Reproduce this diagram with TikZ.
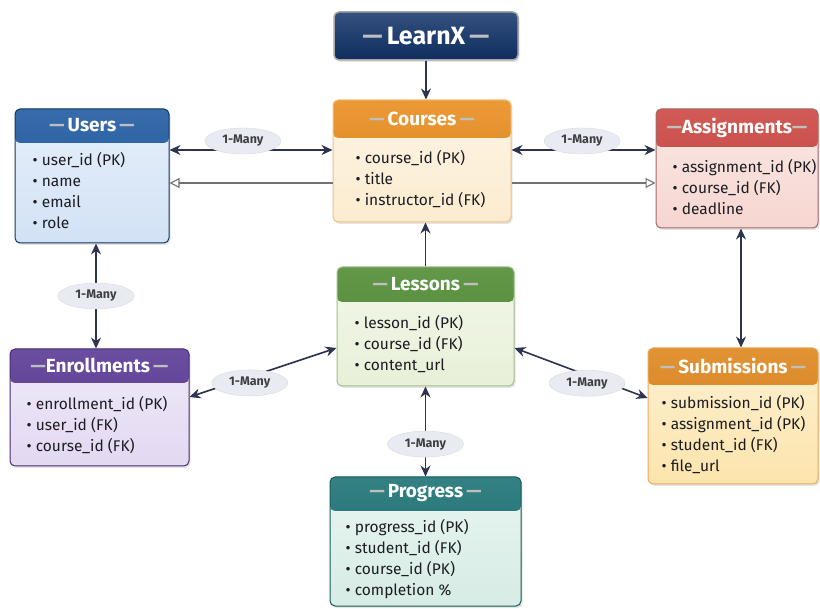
\documentclass[tikz,border=0pt]{standalone}
\usepackage{fontspec}
\setmainfont{Fira Sans}
\usetikzlibrary{arrows.meta,positioning,shapes.geometric,shadows,calc}

\definecolor{navy}{RGB}{16,50,104}
\definecolor{usershd}{RGB}{28,88,160}
\definecolor{usersbd}{RGB}{210,226,246}
\definecolor{coursehd}{RGB}{232,140,28}
\definecolor{coursebd}{RGB}{252,236,208}
\definecolor{assignhd}{RGB}{204,68,62}
\definecolor{assignbd}{RGB}{246,214,208}
\definecolor{lessonhd}{RGB}{78,138,48}
\definecolor{lessonbd}{RGB}{232,240,216}
\definecolor{enrollhd}{RGB}{88,54,148}
\definecolor{enrollbd}{RGB}{228,216,242}
\definecolor{submhd}{RGB}{222,132,24}
\definecolor{submbd}{RGB}{252,228,172}
\definecolor{proghd}{RGB}{24,112,114}
\definecolor{progbd}{RGB}{214,236,228}
\definecolor{linkc}{RGB}{44,52,80}
\definecolor{lblc}{RGB}{232,236,242}
\definecolor{bodyc}{RGB}{28,28,34}
\newcommand{\hd}[1]{{\color{white!75!black}—}\,#1\,{\color{white!75!black}—}}

\begin{document}
\begin{tikzpicture}[x=1pt, y=-1pt, >={Stealth[length=11pt,width=10pt]},
  entity/.style n args={4}{draw=#3, top color=#2!55!white, bottom color=#2,
    rounded corners=5pt, line width=1pt, inner sep=0pt,
    drop shadow={shadow xshift=1.5pt, shadow yshift=-2pt, opacity=0.2},
    path picture={\shade[top color=#1!88!white, bottom color=#1!92!black]
      (path picture bounding box.north west) rectangle
      ([yshift=-#4]path picture bounding box.north east);}},
  hdtxt/.style={text=white, inner sep=0pt, font=\fontsize{19}{21}\selectfont\bfseries},
  bdtxt/.style={anchor=north west, align=left, inner sep=0pt, text=bodyc,
    font=\fontsize{15.5}{21}\selectfont},
  link/.style={draw=linkc, line width=1.6pt},
  fkline/.style={draw=black!55, line width=1.1pt, -{Triangle[open,length=10pt,width=10pt]}},
  lbl/.style={ellipse, fill=lblc, draw=white!85!black, line width=0.4pt,
    minimum width=76pt, minimum height=26pt, inner sep=0pt, text=bodyc!85!white,
    font=\fontsize{12.5}{15}\selectfont\bfseries}]
\useasboundingbox[fill=white] (0,0) rectangle (820,609);

% root
\node[draw=black!35, line width=1.5pt, rounded corners=5pt, minimum width=184pt,
  minimum height=48pt, top color=navy!85!white, bottom color=navy!90!black,
  drop shadow={shadow xshift=1.5pt, shadow yshift=-2pt, opacity=0.2}] (learnx) at (426,36) {};
\node[hdtxt, font=\fontsize{25}{28}\selectfont\bfseries] (learnxT) at (learnx.center) {\hd{LearnX}};

% tables
\node[entity={usershd}{usersbd}{usershd!60!black}{34pt}, minimum width=154pt, minimum height=134pt] (users) at (92,176) {};
\node[hdtxt] (usersT) at ($(users.north)+(0,17)$) {\hd{Users}};
\node[bdtxt] (usersL) at ($(users.north west)+(18,44)$) {• user\_id (PK)\\• name\\• email\\• role};

\node[entity={coursehd}{coursebd}{coursehd!55!white}{38pt}, minimum width=178pt, minimum height=122pt] (courses) at (422,161) {};
\node[hdtxt] (coursesT) at ($(courses.north)+(0,19)$) {\hd{Courses}};
\node[bdtxt] (coursesL) at ($(courses.north west)+(23,51)$) {• course\_id (PK)\\• title\\• instructor\_id (FK)};

\node[entity={assignhd}{assignbd}{assignhd!60!black!70}{38pt}, minimum width=162pt, minimum height=119pt] (assign) at (737,168.5) {};
\node[hdtxt] (assignT) at ($(assign.north)+(0,19)$) {{\color{white!75!black}—}Assignments{\color{white!75!black}—}};
\node[bdtxt] (assignL) at ($(assign.north west)+(17,51)$) {• assignment\_id (PK)\\• course\_id (FK)\\• deadline};

\node[entity={lessonhd}{lessonbd}{lessonhd!55!white}{35pt}, minimum width=177pt, minimum height=119pt] (lessons) at (425.5,326.5) {};
\node[hdtxt] (lessonsT) at ($(lessons.north)+(0,17.5)$) {\hd{Lessons}};
\node[bdtxt] (lessonsL) at ($(lessons.north west)+(18,49)$) {• lesson\_id (PK)\\• course\_id (FK)\\• content\_url};

\node[entity={enrollhd}{enrollbd}{enrollhd!80!black}{34pt}, minimum width=179pt, minimum height=117pt] (enroll) at (99.5,407.5) {};
\node[hdtxt] (enrollT) at ($(enroll.north)+(0,17)$) {{\color{white!75!black}—}Enrollments\,{\color{white!75!black}—}};
\node[bdtxt] (enrollL) at ($(enroll.north west)+(17,48)$) {• enrollment\_id (PK)\\• user\_id (FK)\\• course\_id (FK)};

\node[entity={submhd}{submbd}{submhd!70!white}{37pt}, minimum width=170pt, minimum height=136pt] (subm) at (733,416) {};
\node[hdtxt] (submT) at ($(subm.north)+(0,18.5)$) {\hd{Submissions}};
\node[bdtxt] (submL) at ($(subm.north west)+(14,48)$) {• submission\_id (PK)\\• assignment\_id (PK)\\• student\_id (FK)\\• file\_url};

\node[entity={proghd}{progbd}{proghd!80!black}{34pt}, minimum width=191pt, minimum height=129pt] (progress) at (425.5,541.5) {};
\node[hdtxt] (progressT) at ($(progress.north)+(0,17)$) {\hd{Progress}};
\node[bdtxt] (progressL) at ($(progress.north west)+(16,43)$) {• progress\_id (PK)\\• student\_id (FK)\\• course\_id (PK)\\• completion \%};

% relations
\draw[link,->] (learnx.south) -- (courses.north -| learnx.south);
\draw[link,->] (lessons.north) -- (courses.south -| lessons.north);
\draw[link,<->] (users.east |- 0,150) -- node[lbl, pos=0.45, yshift=9pt] (ucL) {1-Many} (courses.west |- 0,150);
\draw[link,<->] (courses.east |- 0,150) -- node[lbl, pos=0.49, yshift=9pt] (caL) {1-Many} (assign.west |- 0,150);
\draw[fkline] (courses.west |- 0,183) -- (users.east |- 0,183);
\draw[fkline] (courses.east |- 0,183) -- (assign.west |- 0,183);
\draw[link,<->] (users.south -| 96,0) -- node[lbl] (ueL) {1-Many} (enroll.north -| 96,0);
\draw[link,<->] (lessons.west |- 0,348) -- node[lbl, pos=0.59, yshift=-6pt] (leL) {1-Many} (enroll.east |- 0,397);
\draw[link,<->] (lessons.east |- 0,348) -- node[lbl, pos=0.545, yshift=-8pt] (lsL) {1-Many} (subm.west |- 0,398);
\draw[link,<->] (assign.south -| 741,0) -- (subm.north -| 741,0);
\draw[link,<->] (lessons.south) -- node[lbl, pos=0.64] (lpL) {1-Many} (progress.north);
\end{tikzpicture}
\end{document}
